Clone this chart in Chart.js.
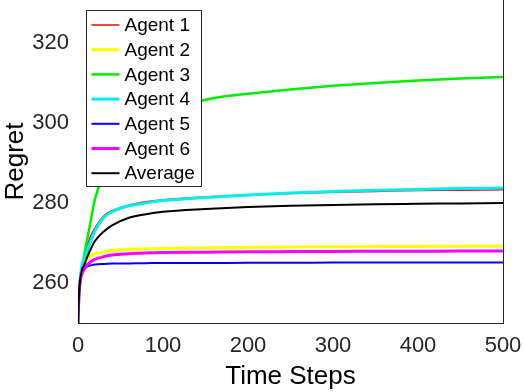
<!DOCTYPE html>
<html>
<head>
<meta charset="utf-8">
<script src="https://cdn.jsdelivr.net/npm/chart.js@4/dist/chart.umd.min.js"></script>
<style>
  html, body { margin: 0; padding: 0; background: #fff; }
  #wrap { width: 524px; height: 392px; }
</style>
</head>
<body>
<div id="wrap"><canvas id="regretChart" width="524" height="392"></canvas></div>
<script>
// time steps where the curves are sampled
const steps = [0, 1, 2, 3, 5, 7, 10, 15, 20, 30, 40, 60, 80, 100, 150, 200, 250, 300, 350, 400, 450, 500];

// regret values
const agent1 = [250, 257, 260, 262, 264.5, 266.2, 268.8, 271.8, 273.8, 276.7, 278.1, 279.5, 280.3, 280.8, 281.5, 282, 282.4, 282.7, 282.9, 283.1, 283.2, 283.3];
const agent2 = [250, 256.5, 259.5, 261.5, 263.5, 264.5, 265.8, 266.8, 267.3, 267.8, 268.1, 268.4, 268.5, 268.6, 268.8, 268.9, 269, 269.05, 269.1, 269.15, 269.2, 269.25];
const agent3 = [250, 256, 259, 261.5, 264.5, 266.5, 270, 275.5, 281, 287, 291, 296, 299.5, 302, 305.8, 307.3, 308.4, 309.3, 310, 310.6, 311.1, 311.5];
const agent4 = [250, 257, 260, 262, 264.5, 265.5, 267.5, 270.5, 273, 276.3, 277.8, 279.3, 280, 280.6, 281.4, 282, 282.5, 282.9, 283.2, 283.4, 283.6, 283.75];
const agent5 = [250, 256, 259, 261, 262.5, 263.3, 264, 264.4, 264.6, 264.75, 264.85, 264.9, 264.95, 265, 265, 265.05, 265.05, 265.1, 265.1, 265.1, 265.1, 265.1];
const agent6 = [250, 256.5, 259.5, 261, 262.5, 263.3, 264.3, 265.3, 265.9, 266.6, 267, 267.3, 267.5, 267.6, 267.7, 267.8, 267.85, 267.9, 267.92, 267.95, 267.98, 268];
const average = [250, 256.5, 259.5, 261.5, 263.5, 264.3, 266, 268.5, 270.5, 272.8, 274.4, 276.3, 277.2, 277.8, 278.5, 279, 279.3, 279.5, 279.7, 279.8, 279.9, 280];

const seriesNames = ["Agent 1", "Agent 2", "Agent 3", "Agent 4", "Agent 5", "Agent 6", "Average"];
const seriesColors = ["#ff0000", "#ffff00", "#00ee00", "#00eeee", "#0000ff", "#ff00ff", "#000000"];
const seriesWidths = [1.5, 3, 2.5, 3, 2, 3, 2];

const yTicks = [260, 280, 300, 320];
const xTicks = [0, 100, 200, 300, 400, 500];

const allSeries = [agent1, agent2, agent3, agent4, agent5, agent6, average];
const fontName = "'Liberation Sans', Arial, Helvetica, sans-serif";
const axisColor = "#262626";

// legend box in the upper left corner + right frame line
const frameAndLegend = {
  id: "frameAndLegend",
  afterDraw(chart) {
    const ctx = chart.ctx;
    const area = chart.chartArea;
    ctx.save();

    // right axis line
    ctx.strokeStyle = axisColor;
    ctx.lineWidth = 1;
    ctx.beginPath();
    ctx.moveTo(area.right + 0.5, area.top);
    ctx.lineTo(area.right + 0.5, area.bottom);
    ctx.stroke();

    const boxLeft = area.left + 8.5;
    const boxTop = area.top + 10.5;
    const boxW = 115;
    const boxH = 176;
    ctx.fillStyle = "#ffffff";
    ctx.fillRect(boxLeft, boxTop, boxW, boxH);
    ctx.strokeStyle = axisColor;
    ctx.strokeRect(boxLeft, boxTop, boxW, boxH);

    ctx.font = "19px " + fontName;
    ctx.textBaseline = "middle";
    ctx.textAlign = "left";
    chart.data.datasets.forEach((ds, i) => {
      const y = boxTop + 14.5 + i * 24.7;
      ctx.strokeStyle = ds.borderColor;
      ctx.lineWidth = ds.borderWidth;
      ctx.beginPath();
      ctx.moveTo(boxLeft + 5, y);
      ctx.lineTo(boxLeft + 33, y);
      ctx.stroke();
      ctx.fillStyle = "#000000";
      ctx.fillText(ds.label, boxLeft + 38, y + 1);
    });
    ctx.restore();
  },
};

const ctx = document.getElementById("regretChart").getContext("2d");

new Chart(ctx, {
  type: "line",
  data: {
    datasets: allSeries.map((values, i) => ({
      label: seriesNames[i],
      data: steps.map((t, j) => ({ x: t, y: values[j] })),
      borderColor: seriesColors[i],
      borderWidth: seriesWidths[i],
      pointRadius: 0,
      fill: false,
      cubicInterpolationMode: "monotone",
      order: allSeries.length - i,
    })),
  },
  options: {
    responsive: false,
    animation: false,
    layout: { padding: { top: 0, right: 21, bottom: 0, left: 0 } },
    plugins: {
      legend: { display: false },
      tooltip: { enabled: false },
    },
    scales: {
      x: {
        type: "linear",
        min: 0,
        max: 500,
        afterBuildTicks: (scale) => {
          scale.ticks = xTicks.map((v) => ({ value: v }));
        },
        afterFit: (scale) => {
          scale.height = 69;
          scale.paddingLeft = 0;
          scale.paddingRight = 0;
        },
        grid: { display: false, drawTicks: false },
        border: { display: true, color: axisColor, width: 1 },
        ticks: {
          padding: 10,
          color: axisColor,
          maxRotation: 0,
          font: { family: fontName, size: 22 },
        },
        title: {
          display: true,
          text: "Time Steps",
          color: "#000000",
          padding: { top: 0, bottom: 0 },
          font: { family: fontName, size: 26 },
        },
      },
      y: {
        type: "linear",
        min: 250,
        max: 330.75,
        afterBuildTicks: (scale) => {
          scale.ticks = yTicks.map((v) => ({ value: v }));
        },
        afterFit: (scale) => {
          scale.width = 78;
          scale.paddingTop = 0;
          scale.paddingBottom = 0;
        },
        grid: { display: false, drawTicks: false },
        border: { display: false },
        ticks: {
          padding: 9,
          color: axisColor,
          font: { family: fontName, size: 22 },
        },
        title: {
          display: true,
          text: "Regret",
          color: "#000000",
          padding: { top: 0, bottom: 0 },
          font: { family: fontName, size: 26 },
        },
      },
    },
  },
  plugins: [frameAndLegend],
});
</script>
</body>
</html>
